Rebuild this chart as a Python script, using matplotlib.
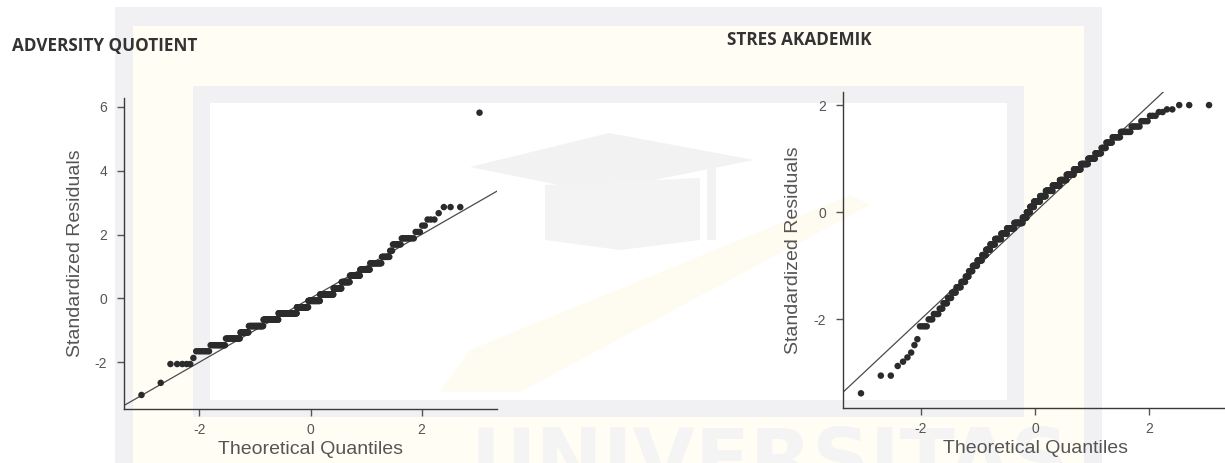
import matplotlib
matplotlib.use('Agg')
import matplotlib.pyplot as plt
from matplotlib.patches import Rectangle, Polygon
from statistics import NormalDist

plt.rcParams['axes.unicode_minus'] = False

# standardized residuals as (value, how many points)
aq_levels = [-3.03, -2.65, -2.06, -1.87, -1.66, -1.47, -1.26, -1.07, -0.87, -0.67,
             -0.47, -0.28, -0.08, 0.12, 0.31, 0.51, 0.71, 0.90, 1.10, 1.30,
             1.49, 1.69, 1.88, 2.08, 2.28, 2.47, 2.67, 2.86, 5.82]
aq_counts = [1, 1, 5, 1, 7, 12, 17, 13, 28, 36,
             52, 35, 36, 40, 22, 21, 23, 19, 18, 10,
             3, 8, 9, 3, 2, 3, 1, 3, 1]

sa_levels = [-3.38, -3.05, -2.87, -2.79, -2.71, -2.62, -2.48, -2.37, -2.13,
             -2.0, -1.9, -1.8, -1.7, -1.6, -1.5, -1.4, -1.3, -1.2, -1.1,
             -1.0, -0.9, -0.8, -0.7, -0.6, -0.5, -0.4, -0.3, -0.2, -0.1,
             0.0, 0.1, 0.2, 0.3, 0.4, 0.5, 0.6, 0.7, 0.8, 0.9,
             1.0, 1.1, 1.2, 1.3, 1.4, 1.5, 1.6, 1.7, 1.8, 1.87, 1.92, 2.0]
sa_counts = [1, 2, 1, 1, 1, 1, 1, 1, 4,
             3, 4, 3, 4, 4, 5, 6, 6, 5, 6,
             8, 9, 8, 9, 11, 15, 15, 20, 24, 12,
             10, 12, 18, 17, 20, 20, 18, 18, 16, 15,
             13, 10, 7, 8, 9, 9, 6, 4, 3, 2, 2, 3]

titles = ['ADVERSITY QUOTIENT', 'STRES AKADEMIK']


def expand(levels, counts):
    out = []
    for v, c in zip(levels, counts):
        out += [v] * c
    return sorted(out)


def theoretical(n):
    # same plotting positions as ggplot's stat_qq: (i - 0.5) / n
    nd = NormalDist()
    return [nd.inv_cdf((i - 0.5) / n) for i in range(1, n + 1)]


W, H = 1225, 463
fig = plt.figure(figsize=(W / 100, H / 100), dpi=100)
fig.patch.set_facecolor('white')


def px_rect(x0, y0, x1, y1, color):
    r = Rectangle((x0 / W, 1 - y1 / H), (x1 - x0) / W, (y1 - y0) / H,
                  transform=fig.transFigure, facecolor=color, edgecolor='none', zorder=-10)
    fig.add_artist(r)


def px_poly(pts, color):
    p = Polygon([(x / W, 1 - y / H) for x, y in pts], closed=True,
                transform=fig.transFigure, facecolor=color, edgecolor='none', zorder=-9)
    fig.add_artist(p)


# faint watermark behind the charts
px_rect(115, 7, 1102, 463, '#f1f1f3')
px_rect(133, 26, 1084, 463, '#fffdf4')
px_rect(193, 86, 1024, 417, '#f1f1f3')
px_rect(210, 103, 1007, 400, 'white')
px_poly([(470, 167), (609, 133), (754, 160), (594, 192)], '#f2f2f3')
px_poly([(545, 185), (700, 178), (700, 240), (620, 250), (545, 240)], '#f3f3f4')
px_rect(707, 157, 716, 240, '#f2f2f3')
px_poly([(440, 392), (470, 350), (850, 195), (870, 205), (520, 392)], '#fefbf0')
fig.text(770 / W, 1 - 425 / H, 'UNIVERSITAS', fontsize=58, fontweight='bold',
         color='#f4f4f5', ha='center', va='top', zorder=-8)


def pos(x0, y0, x1, y1):
    return [x0 / W, 1 - y1 / H, (x1 - x0) / W, (y1 - y0) / H]


ax1 = fig.add_axes(pos(124, 98, 497, 409))
ax2 = fig.add_axes(pos(842.7, 91.7, 1227.6, 408.3))

panels = [
    (ax1, expand(aq_levels, aq_counts), (-3.36, 3.36), (-3.47, 6.28), [-2, 0, 2, 4, 6]),
    (ax2, expand(sa_levels, sa_counts), (-3.365, 3.37), (-3.66, 2.25), [-2, 0, 2]),
]

for ax, resid, xl, yl, yt in panels:
    ax.set_facecolor('none')
    q = theoretical(len(resid))
    ax.axline((0, 0), slope=1, color='#4a4a4a', lw=0.9, zorder=2)
    ax.scatter(q, resid, s=22, color='#2b2b2b', edgecolors='none', zorder=3)
    ax.set_xlim(*xl)
    ax.set_ylim(*yl)
    ax.set_xticks([-2, 0, 2])
    ax.set_yticks(yt)
    for s in ['top', 'right']:
        ax.spines[s].set_visible(False)
    for s in ['left', 'bottom']:
        ax.spines[s].set_color('#3a3a3a')
        ax.spines[s].set_linewidth(1.0)
    ax.tick_params(length=5, width=1, color='#555555', labelcolor='#555555',
                   labelsize=10)
    ax.tick_params(axis='x', pad=5)
    ax.tick_params(axis='y', pad=7)
    for lab in ax.get_xticklabels() + ax.get_yticklabels():
        lab.set_fontfamily('Liberation Sans')
    ax.set_xlabel('Theoretical Quantiles', fontsize=14, color='#555555',
                  family='Liberation Sans', labelpad=3)
    ax.set_ylabel('Standardized Residuals', fontsize=14, color='#555555',
                  family='Liberation Sans', labelpad=8)

fig.text(12 / W, 1 - 37 / H, titles[0], fontsize=12.3, fontweight='bold',
         family='Open Sans', color='#333333', ha='left', va='top')
fig.text(727 / W, 1 - 31 / H, titles[1], fontsize=12.3, fontweight='bold',
         family='Open Sans', color='#333333', ha='left', va='top')

fig.savefig('out.png', dpi=100)
